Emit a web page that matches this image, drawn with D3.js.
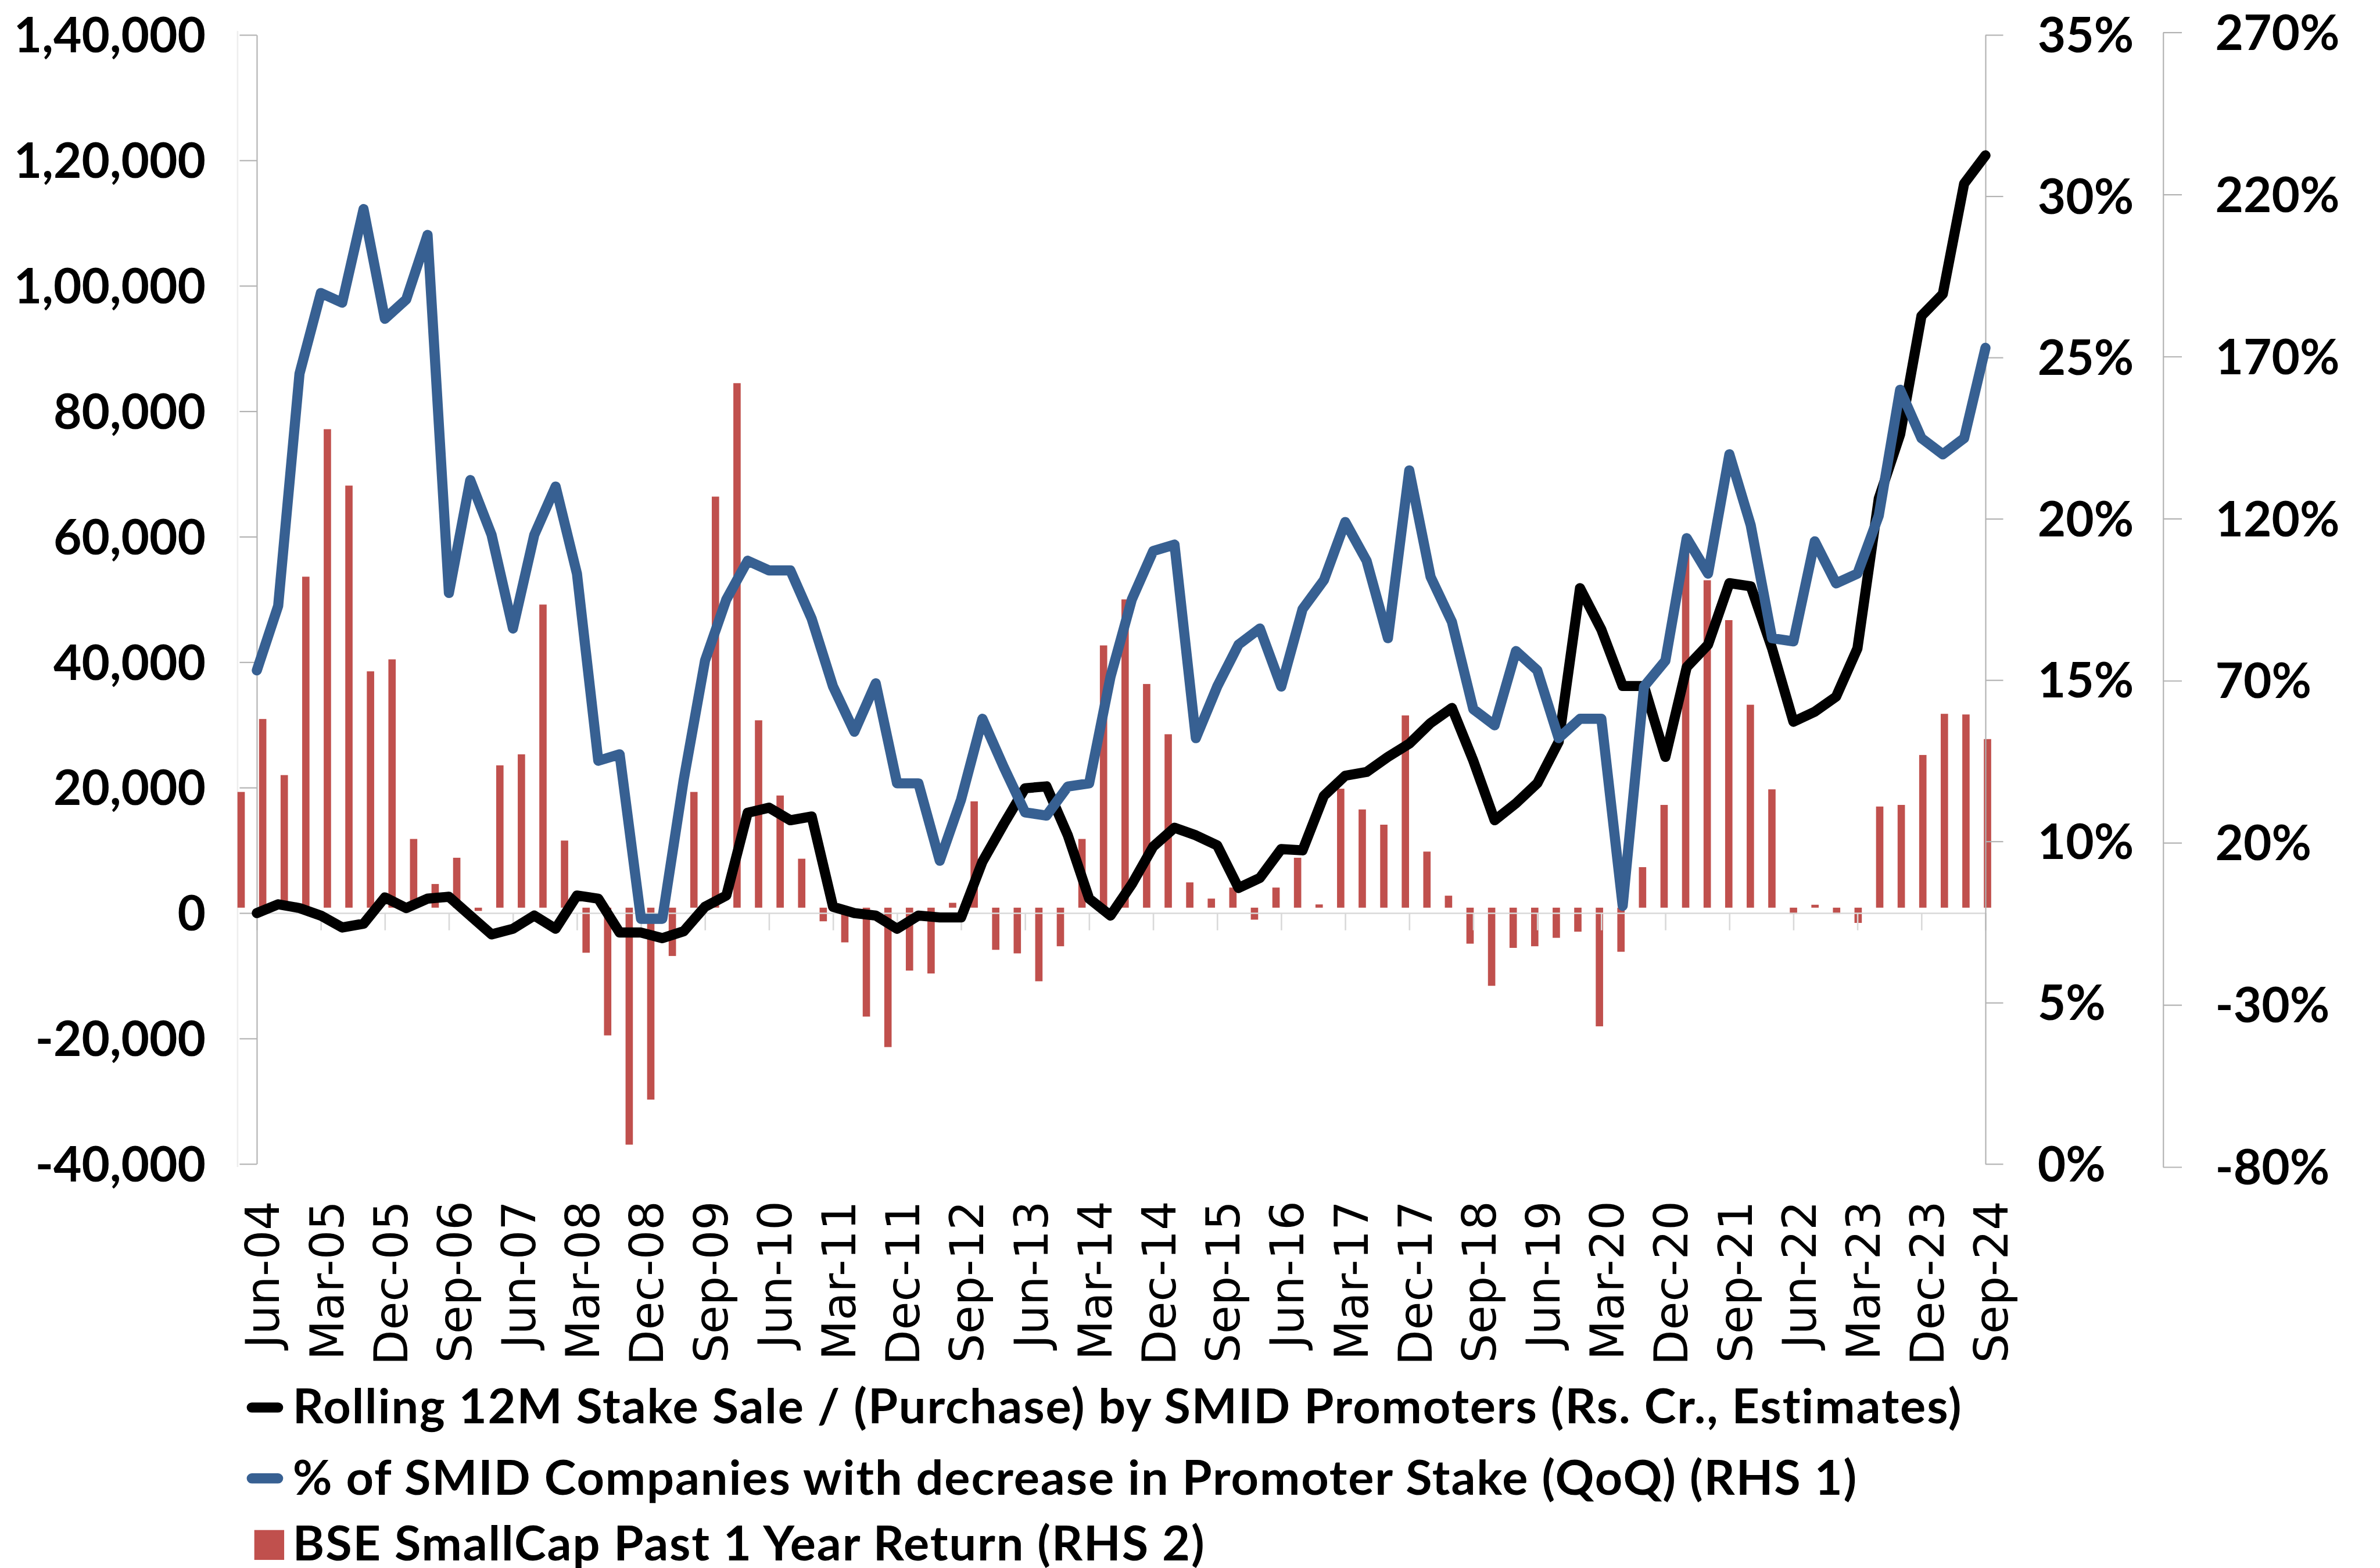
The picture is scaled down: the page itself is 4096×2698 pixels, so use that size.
<!DOCTYPE html>
<html>
<head>
<meta charset="utf-8">
<script src="https://cdn.jsdelivr.net/npm/d3@7"></script>
<style>
  body { margin: 0; background: #fff; }
  svg { display: block; }
</style>
</head>
<body>
<div id="chart"></div>
<script>
// quarter labels, Jun-04 .. Sep-24
const quarters = [
  "Jun-04","Sep-04","Dec-04",
  "Mar-05","Jun-05","Sep-05","Dec-05",
  "Mar-06","Jun-06","Sep-06","Dec-06",
  "Mar-07","Jun-07","Sep-07","Dec-07",
  "Mar-08","Jun-08","Sep-08","Dec-08",
  "Mar-09","Jun-09","Sep-09","Dec-09",
  "Mar-10","Jun-10","Sep-10","Dec-10",
  "Mar-11","Jun-11","Sep-11","Dec-11",
  "Mar-12","Jun-12","Sep-12","Dec-12",
  "Mar-13","Jun-13","Sep-13","Dec-13",
  "Mar-14","Jun-14","Sep-14","Dec-14",
  "Mar-15","Jun-15","Sep-15","Dec-15",
  "Mar-16","Jun-16","Sep-16","Dec-16",
  "Mar-17","Jun-17","Sep-17","Dec-17",
  "Mar-18","Jun-18","Sep-18","Dec-18",
  "Mar-19","Jun-19","Sep-19","Dec-19",
  "Mar-20","Jun-20","Sep-20","Dec-20",
  "Mar-21","Jun-21","Sep-21","Dec-21",
  "Mar-22","Jun-22","Sep-22","Dec-22",
  "Mar-23","Jun-23","Sep-23","Dec-23",
  "Mar-24","Jun-24","Sep-24"
];

// Rolling 12M stake sale / (purchase), Rs. Cr. (left axis)
const stakeSale = [
  0, 1400, 800,
  -400, -2300, -1700, 2500,
  800, 2300, 2600, -400,
  -3400, -2500, -400, -2500,
  2800, 2300, -3100, -3100,
  -4000, -2900, 1000, 2800,
  16000, 16800, 14800, 15400,
  1000, 0, -400, -2500,
  -400, -700, -700, 8200,
  14200, 19900, 20200, 12400,
  2300, -400, 4600, 10600,
  13600, 12400, 10800, 4000,
  5600, 10200, 10000, 18700,
  21900, 22500, 24900, 27000,
  30300, 32700, 24300, 14800,
  17500, 20700, 27300, 51800,
  45200, 36200, 36200, 24900,
  39200, 42800, 52600, 52100,
  42200, 30500, 32100, 34500,
  42200, 66100, 76300, 95200,
  98700, 116300, 120800
];

// % of SMID companies with decrease in promoter stake (RHS 1)
const pctDecrease = [
  15.3, 17.3, 24.5,
  27.0, 26.7, 29.6, 26.2,
  26.8, 28.8, 17.7, 21.2,
  19.5, 16.6, 19.5, 21.0,
  18.3, 12.5, 12.7, 7.6,
  7.6, 11.9, 15.6, 17.5,
  18.7, 18.4, 18.4, 16.9,
  14.8, 13.4, 14.9, 11.8,
  11.8, 9.4, 11.3, 13.8,
  12.3, 10.9, 10.8, 11.7,
  11.8, 15.1, 17.5, 19.0,
  19.2, 13.2, 14.8, 16.1,
  16.6, 14.8, 17.2, 18.1,
  19.9, 18.7, 16.3, 21.5,
  18.2, 16.8, 14.1, 13.6,
  15.9, 15.3, 13.2, 13.8,
  13.8, 8.0, 14.8, 15.6,
  19.4, 18.3, 22.0, 19.8,
  16.3, 16.2, 19.3, 18.0,
  18.3, 20.1, 24.0, 22.5,
  22.0, 22.5, 25.3
];

// BSE SmallCap past 1 year return, % (RHS 2)
const smallcapReturn = [
  35.7, 58.2, 40.9,
  102.1, 147.6, 130.2, 72.9,
  76.6, 21.2, 7.3, 15.4,
  -1.0, 43.9, 47.3, 93.5,
  20.7, -13.9, -39.4, -73.1,
  -59.2, -14.9, 35.7, 126.8,
  161.8, 57.8, 34.6, 15.1,
  -4.2, -10.7, -33.6, -43.0,
  -19.4, -20.3, 1.5, 32.8,
  -13.0, -14.1, -22.7, -11.9,
  21.2, 80.9, 95.1, 69.0,
  53.5, 7.8, 2.8, 6.2,
  -3.7, 6.2, 15.4, 1.0,
  36.7, 30.3, 25.6, 59.3,
  17.3, 3.7, -11.1, -24.1,
  -12.4, -11.9, -9.3, -7.4,
  -36.6, -13.6, 12.5, 31.7,
  110.0, 101.0, 88.7, 62.6,
  36.5, -1.9, 0.9, -1.9,
  -4.7, 31.2, 31.7, 47.1,
  59.8, 59.6, 52.0
];

// tick values and labels
const xTickLabels = ["Jun-04","Mar-05","Dec-05","Sep-06","Jun-07","Mar-08","Dec-08",
  "Sep-09","Jun-10","Mar-11","Dec-11","Sep-12","Jun-13","Mar-14","Dec-14","Sep-15",
  "Jun-16","Mar-17","Dec-17","Sep-18","Jun-19","Mar-20","Dec-20","Sep-21","Jun-22",
  "Mar-23","Dec-23","Sep-24"];
const leftTicks = [-40000, -20000, 0, 20000, 40000, 60000, 80000, 100000, 120000, 140000];
const leftTickLabels = ["-40,000","-20,000","0","20,000","40,000","60,000","80,000",
  "1,00,000","1,20,000","1,40,000"];
const rhs1Ticks = [0, 5, 10, 15, 20, 25, 30, 35];
const rhs2Ticks = [-80, -30, 20, 70, 120, 170, 220, 270];

const legendLabels = [
  "Rolling 12M Stake Sale / (Purchase) by SMID Promoters (Rs. Cr., Estimates)",
  "% of SMID Companies with decrease in Promoter Stake (QoQ) (RHS 1)",
  "BSE SmallCap Past 1 Year Return (RHS 2)"
];

// drawing is done in the reference's pixel space and scaled down by the viewBox
const W = 4701, H = 3097;
const black = "#000000", blue = "#376092", red = "#C0504D";
const axisGrey = "#b3b3b3", xAxisGrey = "#d9d9d9";
const labelFont = "Lato, 'Noto Sans', sans-serif";

const svg = d3.select("#chart")
  .append("svg")
    .attr("width", 4096)
    .attr("height", 2698)
    .attr("viewBox", `0 0 ${W} ${H}`);

svg.append("rect").attr("width", W).attr("height", H).attr("fill", "#fff");

const plotTop = 69, plotBottom = 2299, plotLeft = 507, plotRight = 3922;

const xLine = d3.scalePoint().domain(quarters).range([plotLeft, plotRight]);
// columns sit on their own (secondary) category axis, slightly wider
const xBar = d3.scalePoint().domain(quarters).range([476, 3926]);
const yLeft = d3.scaleLinear().domain([-40000, 140000]).range([plotBottom, plotTop]);
const yRhs1 = d3.scaleLinear().domain([0, 35]).range([plotBottom, plotTop]);
const yRhs2 = d3.scaleLinear().domain([-80, 270]).range([2305, 64]);

// faint plot edge left of the axis
svg.append("line")
  .attr("x1", 469).attr("x2", 469).attr("y1", 61).attr("y2", 2305)
  .attr("stroke", "#eeeeee").attr("stroke-width", 3);

// columns
const barW = 14.5;
svg.append("g")
  .selectAll("rect")
  .data(smallcapReturn)
  .join("rect")
    .attr("x", (d, i) => xBar(quarters[i]) - barW / 2)
    .attr("y", d => yRhs2(Math.max(d, 0)))
    .attr("width", barW)
    .attr("height", d => Math.abs(yRhs2(d) - yRhs2(0)))
    .attr("fill", red);

// horizontal category axis on the zero line
const gX = svg.append("g")
  .attr("transform", `translate(0,${yLeft(0)})`)
  .call(d3.axisBottom(xLine).tickValues(xTickLabels).tickSize(34).tickSizeOuter(0).tickFormat(""));
gX.selectAll("line, path").attr("stroke", xAxisGrey).attr("stroke-width", 3);

// left axis
const gLeft = svg.append("g")
  .attr("transform", `translate(${plotLeft},0)`)
  .call(d3.axisLeft(yLeft).tickValues(leftTicks).tickSize(34).tickSizeOuter(0).tickPadding(67)
    .tickFormat((d, i) => leftTickLabels[i]));

// RHS 1
const gR1 = svg.append("g")
  .attr("transform", `translate(${plotRight},0)`)
  .call(d3.axisRight(yRhs1).tickValues(rhs1Ticks).tickSize(35).tickSizeOuter(0).tickPadding(68)
    .tickFormat(d => d + "%"));

// RHS 2
const gR2 = svg.append("g")
  .attr("transform", "translate(4273,0)")
  .call(d3.axisRight(yRhs2).tickValues(rhs2Ticks).tickSize(37).tickSizeOuter(0).tickPadding(66)
    .tickFormat(d => d + "%"));

[gLeft, gR1, gR2].forEach(g => {
  g.selectAll("line, path").attr("stroke", axisGrey).attr("stroke-width", 2.5);
  g.selectAll("text")
    .attr("font-family", labelFont)
    .attr("font-size", 96)
    .attr("font-weight", "bold")
    .attr("fill", "#000")
    .attr("dy", "0.355em");
});
gR2.selectAll("text").attr("x", 103);

// rotated date labels under the plot
svg.append("g")
  .selectAll("text")
  .data(xTickLabels)
  .join("text")
    .attr("transform", d => `translate(${xLine(d)},2372) rotate(-90)`)
    .attr("y", 44)
    .attr("text-anchor", "end")
    .attr("font-family", "'DejaVu Sans', sans-serif")
    .attr("font-size", 91)
    .attr("fill", "#000")
    .text(d => d);

// lines
const stakeLine = d3.line()
  .x((d, i) => xLine(quarters[i]))
  .y(d => yLeft(d));
const pctLine = d3.line()
  .x((d, i) => xLine(quarters[i]))
  .y(d => yRhs1(d));

svg.append("path")
  .attr("d", stakeLine(stakeSale))
  .attr("fill", "none")
  .attr("stroke", black)
  .attr("stroke-width", 20)
  .attr("stroke-linejoin", "round")
  .attr("stroke-linecap", "round");

svg.append("path")
  .attr("d", pctLine(pctDecrease))
  .attr("fill", "none")
  .attr("stroke", blue)
  .attr("stroke-width", 20)
  .attr("stroke-linejoin", "round")
  .attr("stroke-linecap", "round");

// legend
const legendBase = [2811, 2952, 3082];
const legend = svg.append("g");

legend.append("line")
  .attr("x1", 497).attr("x2", 549).attr("y1", 2780).attr("y2", 2780)
  .attr("stroke", black).attr("stroke-width", 20).attr("stroke-linecap", "round");
legend.append("line")
  .attr("x1", 497).attr("x2", 549).attr("y1", 2920).attr("y2", 2920)
  .attr("stroke", blue).attr("stroke-width", 20).attr("stroke-linecap", "round");
legend.append("rect")
  .attr("x", 502).attr("y", 3022).attr("width", 59).attr("height", 59)
  .attr("fill", red);

const legendText = legend.selectAll("text")
  .data(legendLabels)
  .join("text")
    .attr("x", 578)
    .attr("y", (d, i) => legendBase[i])
    .attr("font-family", labelFont)
    .attr("font-weight", "bold")
    .attr("font-size", 95)
    .attr("fill", "#000")
    .text(d => d);

// the original (Calibri) runs wider: first entry ends near x=3880,
// so open up the letter spacing a little to match
const firstW = legendText.node().getComputedTextLength();
const spacing = (3300 - firstW) / legendLabels[0].length;
if (spacing > 0) legendText.attr("letter-spacing", spacing);
</script>
</body>
</html>
